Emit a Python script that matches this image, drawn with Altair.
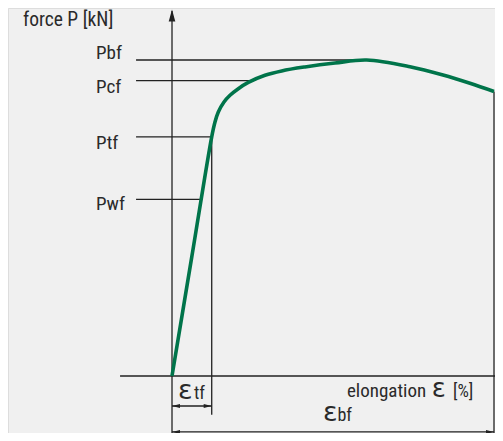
import altair as alt
import pandas as pd

# Curve: elongation (%) vs force (kN), schematic
elongation = [0, 1.85, 3.70, 4.006, 4.314, 4.845, 5.404, 6.177, 7.109, 8.665, 10.22,
              12.39, 15.19, 18.14, 22.17, 25.25, 27.76, 30.0]
force = [0, 37.85, 75.7, 80.38, 83.54, 86.71, 88.83, 90.92, 92.9, 95.16, 96.55,
         97.8, 99.05, 100.0, 97.88, 95.25, 92.63, 90.03]

# Characteristic points
level_names = ["Pbf", "Pcf", "Ptf", "Pwf"]
level_force = [100.0, 93.5, 75.7, 55.9]
level_eps = [18.14, 7.6, 3.70, 2.6]
eps_tf = 3.70
eps_bf = 30.0
P_end = 90.0

X_DOM = [-15.28, 30.093]
Y_DOM = [-18.038, 116.456]
FONT = "Roboto Condensed, Liberation Sans Narrow, Roboto, sans-serif"
EPS_FONT = "DejaVu Sans, sans-serif"
INK = "#222222"
GREEN = "#00744a"

xs = alt.Scale(domain=X_DOM, nice=False, zero=False)
ys = alt.Scale(domain=Y_DOM, nice=False, zero=False)

curve_df = pd.DataFrame({"e": elongation, "p": force})

seg_rows = []
for n, p, e in zip(level_names, level_force, level_eps):
    seg_rows.append({"x": -3.35, "x2": e, "y": p, "y2": p})
seg_rows += [
    {"x": 0, "x2": 0, "y": -25, "y2": 115.5},
    {"x": -4.84, "x2": 32, "y": 0, "y2": 0},
    {"x": eps_tf, "x2": eps_tf, "y": level_force[2], "y2": -12.3},
    {"x": eps_bf, "x2": eps_bf, "y": P_end, "y2": -25},
    {"x": 0, "x2": eps_tf, "y": -9.5, "y2": -9.5},
    {"x": 0, "x2": eps_bf, "y": -17.7, "y2": -17.7},
]
seg_df = pd.DataFrame(seg_rows)

ARROW_L = "M0,0L2,-0.5L2,0.5Z"
ARROW_R = "M0,0L-2,-0.5L-2,0.5Z"
ARROW_U = "M0,0L-0.55,2L0.55,2Z"
heads_df = pd.DataFrame([
    {"x": 0, "y": -9.5, "s": "L"},
    {"x": eps_tf, "y": -9.5, "s": "R"},
    {"x": 0, "y": -17.7, "s": "L"},
    {"x": eps_bf, "y": -17.7, "s": "R"},
])

labels = pd.DataFrame([
    {"t": "force P [kN]", "x": -13.88, "y": 110.76, "s": 19.5},
    {"t": "Pbf", "x": -7.08, "y": 100.47, "s": 19},
    {"t": "Pcf", "x": -7.08, "y": 89.56, "s": 19},
    {"t": "Ptf", "x": -7.08, "y": 71.84, "s": 19},
    {"t": "Pwf", "x": -7.08, "y": 52.53, "s": 19},
    {"t": "tf", "x": 2.05, "y": -7.28, "s": 18},
    {"t": "elongation", "x": 16.30, "y": -6.55, "s": 19},
    {"t": "[%]", "x": 26.17, "y": -6.55, "s": 18},
    {"t": "bf", "x": 15.41, "y": -14.24, "s": 18},
])
eps_labels = pd.DataFrame([
    {"t": "ε", "x": 0.56, "y": -7.28, "s": 27},
    {"t": "ε", "x": 24.2, "y": -6.55, "s": 26},
    {"t": "ε", "x": 14.07, "y": -14.24, "s": 27},
])

enc_xy = dict(x=alt.X("x:Q", scale=xs, axis=None), y=alt.Y("y:Q", scale=ys, axis=None))

segs = alt.Chart(seg_df).mark_rule(color=INK, strokeWidth=1.3).encode(
    x=alt.X("x:Q", scale=xs, axis=None), x2="x2:Q",
    y=alt.Y("y:Q", scale=ys, axis=None), y2="y2:Q",
)

curve = alt.Chart(curve_df).mark_line(color=GREEN, strokeWidth=3.6, interpolate="catmull-rom").encode(
    x=alt.X("e:Q", scale=xs, axis=None),
    y=alt.Y("p:Q", scale=ys, axis=None),
)

left_heads = alt.Chart(heads_df[heads_df.s == "L"]).mark_point(
    shape=ARROW_L, size=64, filled=True, color=INK, opacity=1).encode(**enc_xy)
right_heads = alt.Chart(heads_df[heads_df.s == "R"]).mark_point(
    shape=ARROW_R, size=64, filled=True, color=INK, opacity=1).encode(**enc_xy)
up_head = alt.Chart(pd.DataFrame({"x": [0], "y": [116.0]})).mark_point(
    shape=ARROW_U, size=144, filled=True, color=INK, opacity=1).encode(**enc_xy)

text = alt.Chart(labels).mark_text(
    align="left", baseline="alphabetic", font=FONT, color="#2a2a2a"
).encode(text="t:N", size=alt.Size("s:Q", scale=None, legend=None), **enc_xy)

eps_text = alt.Chart(eps_labels).mark_text(
    align="left", baseline="alphabetic", font=EPS_FONT, color="#2a2a2a"
).encode(text="t:N", size=alt.Size("s:Q", scale=None, legend=None), **enc_xy)

chart = alt.layer(segs, curve, left_heads, right_heads, up_head, text, eps_text).properties(
    width=487, height=425, padding=0,
    autosize=alt.AutoSizeParams(type="none"),
).configure_view(stroke=None).configure(background="#f0f0f0")

chart.save("out.html", embed_options={"renderer": "svg", "actions": False})
